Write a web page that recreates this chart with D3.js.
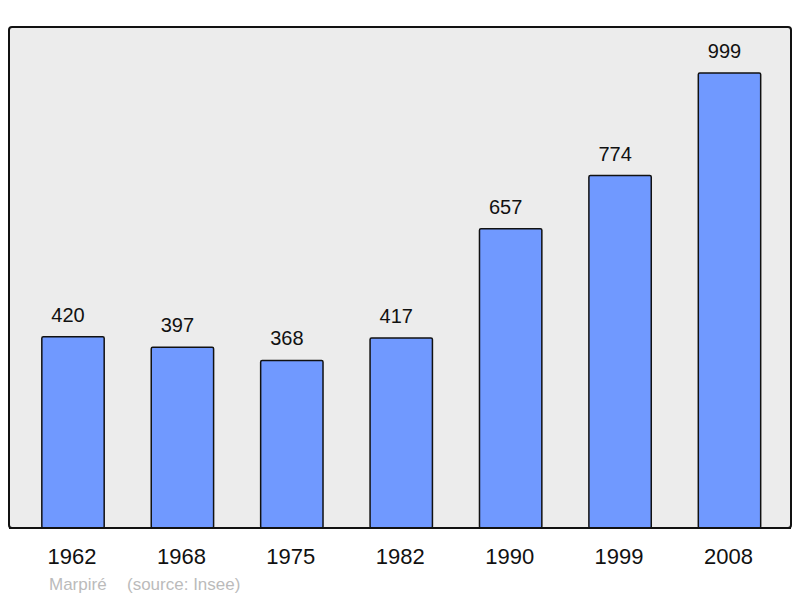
<!DOCTYPE html>
<html><head><meta charset="utf-8">
<script src="https://cdn.jsdelivr.net/npm/d3@7"></script>
<style>body{margin:0;background:#fff}svg{display:block}</style>
</head><body>
<svg id="c" width="800" height="598"></svg>
<script>
const years = ["1962","1968","1975","1982","1990","1999","2008"];
const population = [420,397,368,417,657,774,999];
const footerName = "Marpiré";
const footerSource = "(source: Insee)";

const svg = d3.select("#c");
const font = "'Liberation Sans', Arial, sans-serif";
svg.append("rect").attr("x",9).attr("y",27).attr("width",782).attr("height",501)
  .attr("rx",3).attr("fill","#ececec").attr("stroke","#111").attr("stroke-width",2);

const x = d3.scaleBand().domain(years).range([18.3,784.2]).paddingInner(0.43).paddingOuter(0.215);
const y = d3.scaleLinear().domain([0,1000]).range([528,72.6]);

const g = svg.append("g");
years.forEach((yr,i)=>{
  const v = population[i];
  const cx = x(yr);
  g.append("rect").attr("x",cx).attr("y",y(v)).attr("width",x.bandwidth()).attr("height",528-y(v))
    .attr("rx",1.5).attr("fill","#7099ff").attr("stroke","#111").attr("stroke-width",1.5);
  g.append("text").attr("x",cx+x.bandwidth()/2-5).attr("y",y(v)-15).attr("text-anchor","middle")
    .attr("font-family",font).attr("font-size",20).attr("fill","#111").text(v);
  g.append("text").attr("x",cx+x.bandwidth()/2-1).attr("y",564).attr("text-anchor","middle")
    .attr("font-family",font).attr("font-size",22).attr("fill","#111").text(yr);
});
svg.append("line").attr("x1",9).attr("x2",791).attr("y1",528).attr("y2",528).attr("stroke","#111").attr("stroke-width",2);
svg.append("text").attr("x",49).attr("y",590).attr("font-family",font).attr("font-size",17).attr("fill","#bbb").text(footerName);
svg.append("text").attr("x",127).attr("y",590).attr("font-family",font).attr("font-size",17).attr("fill","#bbb").text(footerSource);
</script>
</body></html>
